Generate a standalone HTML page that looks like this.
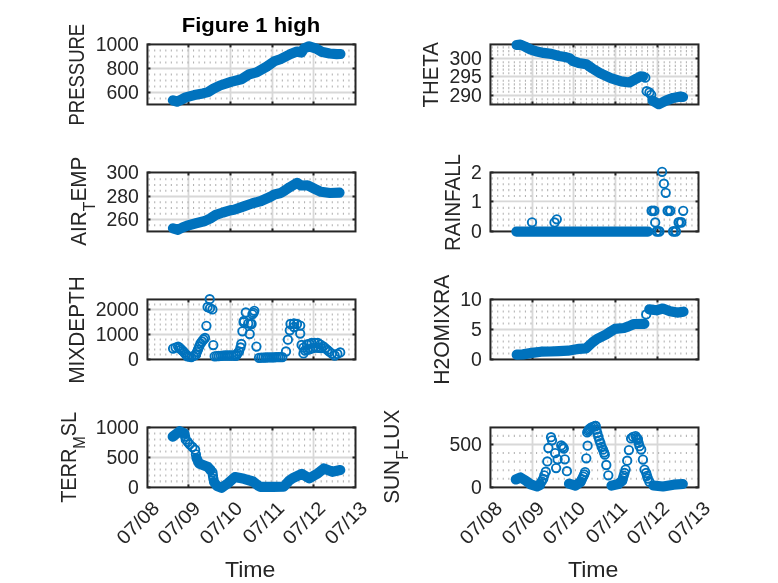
<!DOCTYPE html><html><head><meta charset="utf-8"><style>html,body{margin:0;padding:0;background:#fff;width:778px;height:583px;overflow:hidden}svg{display:block;will-change:transform}text{font-family:"Liberation Sans",sans-serif}</style></head><body>
<svg width="778" height="583" viewBox="0 0 778 583">
<rect width="778" height="583" fill="#fff"/>
<g stroke="#d8d8d8" stroke-width="1.8"><line x1="188.45" y1="44.42" x2="188.45" y2="104.48"/><line x1="230.48" y1="44.42" x2="230.48" y2="104.48"/><line x1="272.48" y1="44.42" x2="272.48" y2="104.48"/><line x1="313.50" y1="44.42" x2="313.50" y2="104.48"/><line x1="147.45" y1="92.48" x2="355.50" y2="92.48"/><line x1="147.45" y1="68.48" x2="355.50" y2="68.48"/></g>
<g stroke="#b4b4b4" stroke-width="2.1" stroke-dasharray="1.1 4.45"><line x1="148.60" y1="98.48" x2="354.50" y2="98.48"/><line x1="148.60" y1="86.48" x2="354.50" y2="86.48"/><line x1="148.60" y1="80.48" x2="354.50" y2="80.48"/><line x1="148.60" y1="74.48" x2="354.50" y2="74.48"/><line x1="148.60" y1="62.48" x2="354.50" y2="62.48"/><line x1="148.60" y1="56.48" x2="354.50" y2="56.48"/><line x1="148.60" y1="50.48" x2="354.50" y2="50.48"/></g>
<g stroke="#262626" stroke-width="2" stroke-linecap="butt"><rect x="147.45" y="44.42" width="208.05" height="60.06" fill="none"/><line x1="188.45" y1="104.48" x2="188.45" y2="101.48"/><line x1="188.45" y1="44.42" x2="188.45" y2="47.42"/><line x1="230.48" y1="104.48" x2="230.48" y2="101.48"/><line x1="230.48" y1="44.42" x2="230.48" y2="47.42"/><line x1="272.48" y1="104.48" x2="272.48" y2="101.48"/><line x1="272.48" y1="44.42" x2="272.48" y2="47.42"/><line x1="313.50" y1="104.48" x2="313.50" y2="101.48"/><line x1="313.50" y1="44.42" x2="313.50" y2="47.42"/><line x1="147.45" y1="92.48" x2="150.45" y2="92.48"/><line x1="355.50" y1="92.48" x2="352.50" y2="92.48"/><line x1="147.45" y1="68.48" x2="150.45" y2="68.48"/><line x1="355.50" y1="68.48" x2="352.50" y2="68.48"/><line x1="147.45" y1="44.42" x2="150.45" y2="44.42"/><line x1="355.50" y1="44.42" x2="352.50" y2="44.42"/></g>
<g fill="#262626" font-size="19.40"><text x="138.90" y="99.18" text-anchor="end">600</text><text x="138.90" y="75.18" text-anchor="end">800</text><text x="138.90" y="51.12" text-anchor="end">1000</text></g>
<text x='300' y='300' font-size='21.3' fill='#262626' transform='translate(83.90 125.54) rotate(-90) scale(0.8684 1) translate(-300 -300)'>PRESSURE</text>
<path d="M172.9 100.3 L177.1 101.7 L181.4 99.6 L185.7 97.4 L194.3 95.1 L202.8 93.4 L208.0 92.1 L213.1 88.9 L220.0 85.5 L230.9 81.9 L241.2 79.3 L249.4 74.2 L256.6 72.4 L266.9 66.5 L274.2 61.3 L280.3 59.2 L290.6 54.0 L297.0 51.5 L301.5 52.5 L304.0 48.5 L309.1 46.3 L316.3 48.6 L321.4 51.7 L329.6 53.5 L336.8 54.2 L340.4 54.0" fill="none" stroke="#0072bd" stroke-width="10.2" stroke-linecap="round" stroke-linejoin="round"/>
<g stroke="#d8d8d8" stroke-width="1.8"><line x1="532.50" y1="44.42" x2="532.50" y2="104.48"/><line x1="573.45" y1="44.42" x2="573.45" y2="104.48"/><line x1="615.45" y1="44.42" x2="615.45" y2="104.48"/><line x1="657.48" y1="44.42" x2="657.48" y2="104.48"/><line x1="490.45" y1="95.48" x2="698.50" y2="95.48"/><line x1="490.45" y1="76.48" x2="698.50" y2="76.48"/><line x1="490.45" y1="58.48" x2="698.50" y2="58.48"/></g>
<g stroke="#b4b4b4" stroke-width="2.1" stroke-dasharray="1.1 4.45"><line x1="491.60" y1="102.88" x2="697.50" y2="102.88"/><line x1="491.60" y1="99.18" x2="697.50" y2="99.18"/><line x1="491.60" y1="91.78" x2="697.50" y2="91.78"/><line x1="491.60" y1="88.08" x2="697.50" y2="88.08"/><line x1="491.60" y1="84.38" x2="697.50" y2="84.38"/><line x1="491.60" y1="80.68" x2="697.50" y2="80.68"/><line x1="491.60" y1="73.28" x2="697.50" y2="73.28"/><line x1="491.60" y1="69.58" x2="697.50" y2="69.58"/><line x1="491.60" y1="65.88" x2="697.50" y2="65.88"/><line x1="491.60" y1="62.18" x2="697.50" y2="62.18"/><line x1="491.60" y1="54.78" x2="697.50" y2="54.78"/><line x1="491.60" y1="51.08" x2="697.50" y2="51.08"/><line x1="491.60" y1="47.38" x2="697.50" y2="47.38"/></g>
<g stroke="#262626" stroke-width="2" stroke-linecap="butt"><rect x="490.45" y="44.42" width="208.05" height="60.06" fill="none"/><line x1="532.50" y1="104.48" x2="532.50" y2="101.48"/><line x1="532.50" y1="44.42" x2="532.50" y2="47.42"/><line x1="573.45" y1="104.48" x2="573.45" y2="101.48"/><line x1="573.45" y1="44.42" x2="573.45" y2="47.42"/><line x1="615.45" y1="104.48" x2="615.45" y2="101.48"/><line x1="615.45" y1="44.42" x2="615.45" y2="47.42"/><line x1="657.48" y1="104.48" x2="657.48" y2="101.48"/><line x1="657.48" y1="44.42" x2="657.48" y2="47.42"/><line x1="490.45" y1="95.48" x2="493.45" y2="95.48"/><line x1="698.50" y1="95.48" x2="695.50" y2="95.48"/><line x1="490.45" y1="76.48" x2="493.45" y2="76.48"/><line x1="698.50" y1="76.48" x2="695.50" y2="76.48"/><line x1="490.45" y1="58.48" x2="493.45" y2="58.48"/><line x1="698.50" y1="58.48" x2="695.50" y2="58.48"/></g>
<g fill="#262626" font-size="19.40"><text x="481.90" y="102.18" text-anchor="end">290</text><text x="481.90" y="83.18" text-anchor="end">295</text><text x="481.90" y="65.18" text-anchor="end">300</text></g>
<text x='300' y='300' font-size='21.3' fill='#262626' transform='translate(437.70 107.56) rotate(-90) scale(0.9597 1) translate(-300 -300)'>THETA</text>
<path d="M516.6 45.0 L520.4 44.6 L525.0 46.6 L530.4 49.4 L535.8 51.3 L543.5 52.9 L551.3 53.9 L559.0 56.0 L565.0 57.0 L569.3 58.1 L573.2 61.2 L578.5 62.9 L586.3 64.3 L592.4 68.5 L600.0 73.1 L610.8 78.1 L621.1 81.4 L629.4 82.5 L636.6 78.6 L640.5 76.3 L643.0 76.5" fill="none" stroke="#0072bd" stroke-width="10.2" stroke-linecap="round" stroke-linejoin="round"/><path d="M652.5 100.6 L658.8 104.2 L666.0 100.6 L673.2 97.9 L680.4 96.6 L683.0 97.0" fill="none" stroke="#0072bd" stroke-width="10.2" stroke-linecap="round" stroke-linejoin="round"/><circle cx="645.3" cy="77.7" r="4.2" fill="none" stroke="#0072bd" stroke-width="1.9"/><circle cx="646.7" cy="91.2" r="4.2" fill="none" stroke="#0072bd" stroke-width="1.9"/><circle cx="649.4" cy="92.5" r="4.2" fill="none" stroke="#0072bd" stroke-width="1.9"/><circle cx="651.2" cy="94.8" r="4.2" fill="none" stroke="#0072bd" stroke-width="1.9"/>
<g stroke="#d8d8d8" stroke-width="1.8"><line x1="188.45" y1="172.48" x2="188.45" y2="231.45"/><line x1="230.48" y1="172.48" x2="230.48" y2="231.45"/><line x1="272.48" y1="172.48" x2="272.48" y2="231.45"/><line x1="313.50" y1="172.48" x2="313.50" y2="231.45"/><line x1="147.45" y1="219.48" x2="355.50" y2="219.48"/><line x1="147.45" y1="196.48" x2="355.50" y2="196.48"/></g>
<g stroke="#b4b4b4" stroke-width="2.1" stroke-dasharray="1.1 4.45"><line x1="148.60" y1="225.23" x2="354.50" y2="225.23"/><line x1="148.60" y1="213.73" x2="354.50" y2="213.73"/><line x1="148.60" y1="207.98" x2="354.50" y2="207.98"/><line x1="148.60" y1="202.23" x2="354.50" y2="202.23"/><line x1="148.60" y1="190.73" x2="354.50" y2="190.73"/><line x1="148.60" y1="184.98" x2="354.50" y2="184.98"/><line x1="148.60" y1="179.23" x2="354.50" y2="179.23"/></g>
<g stroke="#262626" stroke-width="2" stroke-linecap="butt"><rect x="147.45" y="172.48" width="208.05" height="58.97" fill="none"/><line x1="188.45" y1="231.45" x2="188.45" y2="228.45"/><line x1="188.45" y1="172.48" x2="188.45" y2="175.48"/><line x1="230.48" y1="231.45" x2="230.48" y2="228.45"/><line x1="230.48" y1="172.48" x2="230.48" y2="175.48"/><line x1="272.48" y1="231.45" x2="272.48" y2="228.45"/><line x1="272.48" y1="172.48" x2="272.48" y2="175.48"/><line x1="313.50" y1="231.45" x2="313.50" y2="228.45"/><line x1="313.50" y1="172.48" x2="313.50" y2="175.48"/><line x1="147.45" y1="219.48" x2="150.45" y2="219.48"/><line x1="355.50" y1="219.48" x2="352.50" y2="219.48"/><line x1="147.45" y1="196.48" x2="150.45" y2="196.48"/><line x1="355.50" y1="196.48" x2="352.50" y2="196.48"/><line x1="147.45" y1="172.48" x2="150.45" y2="172.48"/><line x1="355.50" y1="172.48" x2="352.50" y2="172.48"/></g>
<g fill="#262626" font-size="19.40"><text x="138.90" y="226.18" text-anchor="end">260</text><text x="138.90" y="203.18" text-anchor="end">280</text><text x="138.90" y="179.18" text-anchor="end">300</text></g>
<text x='300' y='300' font-size='21.3' fill='#262626' transform='translate(85.70 245.70) rotate(-90) scale(0.9722 1) translate(-300 -300)'><tspan>AIR</tspan><tspan font-size='16.2' dy='9.6'>T</tspan><tspan dy='-9.6'>EMP</tspan></text>
<path d="M173.0 228.3 L178.0 229.8 L182.5 227.5 L187.0 225.7 L196.0 223.3 L205.0 221.0 L210.4 218.4 L215.8 214.9 L223.0 212.5 L230.0 210.4 L234.0 209.8 L243.0 206.6 L252.0 203.5 L261.0 201.0 L270.0 197.0 L274.5 194.5 L280.8 193.0 L285.0 190.4 L289.5 187.3 L297.0 182.8 L301.0 185.5 L307.5 185.3 L314.7 188.9 L321.0 191.8 L330.0 193.0 L339.5 192.7" fill="none" stroke="#0072bd" stroke-width="10.2" stroke-linecap="round" stroke-linejoin="round"/>
<g stroke="#d8d8d8" stroke-width="1.8"><line x1="532.50" y1="172.48" x2="532.50" y2="231.45"/><line x1="573.45" y1="172.48" x2="573.45" y2="231.45"/><line x1="615.45" y1="172.48" x2="615.45" y2="231.45"/><line x1="657.48" y1="172.48" x2="657.48" y2="231.45"/><line x1="490.45" y1="201.45" x2="698.50" y2="201.45"/></g>
<g stroke="#b4b4b4" stroke-width="2.1" stroke-dasharray="1.1 4.45"><line x1="491.60" y1="225.55" x2="697.50" y2="225.55"/><line x1="491.60" y1="219.66" x2="697.50" y2="219.66"/><line x1="491.60" y1="213.76" x2="697.50" y2="213.76"/><line x1="491.60" y1="207.86" x2="697.50" y2="207.86"/><line x1="491.60" y1="196.07" x2="697.50" y2="196.07"/><line x1="491.60" y1="190.17" x2="697.50" y2="190.17"/><line x1="491.60" y1="184.27" x2="697.50" y2="184.27"/><line x1="491.60" y1="178.38" x2="697.50" y2="178.38"/></g>
<g stroke="#262626" stroke-width="2" stroke-linecap="butt"><rect x="490.45" y="172.48" width="208.05" height="58.97" fill="none"/><line x1="532.50" y1="231.45" x2="532.50" y2="228.45"/><line x1="532.50" y1="172.48" x2="532.50" y2="175.48"/><line x1="573.45" y1="231.45" x2="573.45" y2="228.45"/><line x1="573.45" y1="172.48" x2="573.45" y2="175.48"/><line x1="615.45" y1="231.45" x2="615.45" y2="228.45"/><line x1="615.45" y1="172.48" x2="615.45" y2="175.48"/><line x1="657.48" y1="231.45" x2="657.48" y2="228.45"/><line x1="657.48" y1="172.48" x2="657.48" y2="175.48"/><line x1="490.45" y1="231.45" x2="493.45" y2="231.45"/><line x1="698.50" y1="231.45" x2="695.50" y2="231.45"/><line x1="490.45" y1="201.45" x2="493.45" y2="201.45"/><line x1="698.50" y1="201.45" x2="695.50" y2="201.45"/><line x1="490.45" y1="172.48" x2="493.45" y2="172.48"/><line x1="698.50" y1="172.48" x2="695.50" y2="172.48"/></g>
<g fill="#262626" font-size="19.40"><text x="481.90" y="238.15" text-anchor="end">0</text><text x="481.90" y="208.15" text-anchor="end">1</text><text x="481.90" y="179.18" text-anchor="end">2</text></g>
<text x='300' y='300' font-size='21.3' fill='#262626' transform='translate(459.80 250.93) rotate(-90) scale(0.9633 1) translate(-300 -300)'>RAINFALL</text>
<path d="M516.4 231.6 L648.0 231.6" fill="none" stroke="#0072bd" stroke-width="10.2" stroke-linecap="round" stroke-linejoin="round"/><circle cx="532.0" cy="222.3" r="4.2" fill="none" stroke="#0072bd" stroke-width="1.9"/><circle cx="554.5" cy="222.5" r="4.2" fill="none" stroke="#0072bd" stroke-width="1.9"/><circle cx="556.8" cy="219.3" r="4.2" fill="none" stroke="#0072bd" stroke-width="1.9"/><circle cx="662.1" cy="171.8" r="4.2" fill="none" stroke="#0072bd" stroke-width="1.9"/><circle cx="663.9" cy="183.7" r="4.2" fill="none" stroke="#0072bd" stroke-width="1.9"/><circle cx="665.7" cy="192.8" r="4.2" fill="none" stroke="#0072bd" stroke-width="1.9"/><circle cx="683.2" cy="210.8" r="4.2" fill="none" stroke="#0072bd" stroke-width="1.9"/><circle cx="655.2" cy="222.4" r="4.2" fill="none" stroke="#0072bd" stroke-width="1.9"/><circle cx="651.8" cy="210.8" r="4.2" fill="none" stroke="#0072bd" stroke-width="2.3"/><circle cx="654.2" cy="210.8" r="4.2" fill="none" stroke="#0072bd" stroke-width="2.3"/><circle cx="667.8" cy="210.8" r="4.2" fill="none" stroke="#0072bd" stroke-width="2.3"/><circle cx="670.2" cy="210.8" r="4.2" fill="none" stroke="#0072bd" stroke-width="2.3"/><circle cx="678.8" cy="222.4" r="4.2" fill="none" stroke="#0072bd" stroke-width="2.3"/><circle cx="681.2" cy="222.4" r="4.2" fill="none" stroke="#0072bd" stroke-width="2.3"/><circle cx="656.8" cy="231.4" r="4.2" fill="none" stroke="#0072bd" stroke-width="2.3"/><circle cx="659.2" cy="231.4" r="4.2" fill="none" stroke="#0072bd" stroke-width="2.3"/><circle cx="673.3" cy="231.4" r="4.2" fill="none" stroke="#0072bd" stroke-width="2.3"/><circle cx="675.7" cy="231.4" r="4.2" fill="none" stroke="#0072bd" stroke-width="2.3"/>
<g stroke="#d8d8d8" stroke-width="1.8"><line x1="188.45" y1="299.45" x2="188.45" y2="359.45"/><line x1="230.48" y1="299.45" x2="230.48" y2="359.45"/><line x1="272.48" y1="299.45" x2="272.48" y2="359.45"/><line x1="313.50" y1="299.45" x2="313.50" y2="359.45"/><line x1="147.45" y1="334.48" x2="355.50" y2="334.48"/><line x1="147.45" y1="309.48" x2="355.50" y2="309.48"/></g>
<g stroke="#b4b4b4" stroke-width="2.1" stroke-dasharray="1.1 4.45"><line x1="148.60" y1="354.48" x2="354.50" y2="354.48"/><line x1="148.60" y1="349.48" x2="354.50" y2="349.48"/><line x1="148.60" y1="344.48" x2="354.50" y2="344.48"/><line x1="148.60" y1="339.48" x2="354.50" y2="339.48"/><line x1="148.60" y1="329.48" x2="354.50" y2="329.48"/><line x1="148.60" y1="324.48" x2="354.50" y2="324.48"/><line x1="148.60" y1="319.48" x2="354.50" y2="319.48"/><line x1="148.60" y1="314.48" x2="354.50" y2="314.48"/><line x1="148.60" y1="304.48" x2="354.50" y2="304.48"/></g>
<g stroke="#262626" stroke-width="2" stroke-linecap="butt"><rect x="147.45" y="299.45" width="208.05" height="60.00" fill="none"/><line x1="188.45" y1="359.45" x2="188.45" y2="356.45"/><line x1="188.45" y1="299.45" x2="188.45" y2="302.45"/><line x1="230.48" y1="359.45" x2="230.48" y2="356.45"/><line x1="230.48" y1="299.45" x2="230.48" y2="302.45"/><line x1="272.48" y1="359.45" x2="272.48" y2="356.45"/><line x1="272.48" y1="299.45" x2="272.48" y2="302.45"/><line x1="313.50" y1="359.45" x2="313.50" y2="356.45"/><line x1="313.50" y1="299.45" x2="313.50" y2="302.45"/><line x1="147.45" y1="359.45" x2="150.45" y2="359.45"/><line x1="355.50" y1="359.45" x2="352.50" y2="359.45"/><line x1="147.45" y1="334.48" x2="150.45" y2="334.48"/><line x1="355.50" y1="334.48" x2="352.50" y2="334.48"/><line x1="147.45" y1="309.48" x2="150.45" y2="309.48"/><line x1="355.50" y1="309.48" x2="352.50" y2="309.48"/></g>
<g fill="#262626" font-size="19.40"><text x="138.90" y="366.15" text-anchor="end">0</text><text x="138.90" y="341.18" text-anchor="end">1000</text><text x="138.90" y="316.18" text-anchor="end">2000</text></g>
<text x='300' y='300' font-size='21.3' fill='#262626' transform='translate(84.00 383.86) rotate(-90) scale(0.9792 1) translate(-300 -300)'>MIXDEPTH</text>
<circle cx="173.1" cy="348.6" r="4.2" fill="none" stroke="#0072bd" stroke-width="1.9"/><circle cx="175.6" cy="347.6" r="4.2" fill="none" stroke="#0072bd" stroke-width="1.9"/><circle cx="178.1" cy="346.6" r="4.2" fill="none" stroke="#0072bd" stroke-width="1.9"/><circle cx="179.7" cy="348.0" r="4.2" fill="none" stroke="#0072bd" stroke-width="1.9"/><circle cx="181.2" cy="349.5" r="4.2" fill="none" stroke="#0072bd" stroke-width="1.9"/><circle cx="182.8" cy="350.9" r="4.2" fill="none" stroke="#0072bd" stroke-width="1.9"/><circle cx="184.3" cy="352.7" r="4.2" fill="none" stroke="#0072bd" stroke-width="1.9"/><circle cx="185.9" cy="354.5" r="4.2" fill="none" stroke="#0072bd" stroke-width="1.9"/><circle cx="187.4" cy="356.3" r="4.2" fill="none" stroke="#0072bd" stroke-width="1.9"/><circle cx="189.4" cy="356.7" r="4.2" fill="none" stroke="#0072bd" stroke-width="1.9"/><circle cx="191.3" cy="357.1" r="4.2" fill="none" stroke="#0072bd" stroke-width="1.9"/><circle cx="193.6" cy="355.9" r="4.2" fill="none" stroke="#0072bd" stroke-width="1.9"/><circle cx="195.9" cy="354.7" r="4.2" fill="none" stroke="#0072bd" stroke-width="1.9"/><circle cx="195.9" cy="354.7" r="4.2" fill="none" stroke="#0072bd" stroke-width="1.9"/><circle cx="196.9" cy="352.1" r="4.2" fill="none" stroke="#0072bd" stroke-width="1.9"/><circle cx="198.0" cy="349.5" r="4.2" fill="none" stroke="#0072bd" stroke-width="1.9"/><circle cx="199.2" cy="346.5" r="4.2" fill="none" stroke="#0072bd" stroke-width="1.9"/><circle cx="200.5" cy="343.5" r="4.2" fill="none" stroke="#0072bd" stroke-width="1.9"/><circle cx="202.0" cy="341.5" r="4.2" fill="none" stroke="#0072bd" stroke-width="1.9"/><circle cx="203.5" cy="339.5" r="4.2" fill="none" stroke="#0072bd" stroke-width="1.9"/><circle cx="205.0" cy="338.0" r="4.2" fill="none" stroke="#0072bd" stroke-width="1.9"/><circle cx="214.7" cy="356.3" r="4.2" fill="none" stroke="#0072bd" stroke-width="1.9"/><circle cx="216.8" cy="356.1" r="4.2" fill="none" stroke="#0072bd" stroke-width="1.9"/><circle cx="218.8" cy="356.0" r="4.2" fill="none" stroke="#0072bd" stroke-width="1.9"/><circle cx="220.9" cy="355.8" r="4.2" fill="none" stroke="#0072bd" stroke-width="1.9"/><circle cx="222.9" cy="355.7" r="4.2" fill="none" stroke="#0072bd" stroke-width="1.9"/><circle cx="225.0" cy="355.5" r="4.2" fill="none" stroke="#0072bd" stroke-width="1.9"/><circle cx="227.2" cy="355.5" r="4.2" fill="none" stroke="#0072bd" stroke-width="1.9"/><circle cx="229.4" cy="355.5" r="4.2" fill="none" stroke="#0072bd" stroke-width="1.9"/><circle cx="231.6" cy="355.5" r="4.2" fill="none" stroke="#0072bd" stroke-width="1.9"/><circle cx="233.8" cy="355.5" r="4.2" fill="none" stroke="#0072bd" stroke-width="1.9"/><circle cx="236.0" cy="355.5" r="4.2" fill="none" stroke="#0072bd" stroke-width="1.9"/><circle cx="236.0" cy="355.5" r="4.2" fill="none" stroke="#0072bd" stroke-width="1.9"/><circle cx="237.5" cy="353.5" r="4.2" fill="none" stroke="#0072bd" stroke-width="1.9"/><circle cx="239.0" cy="351.5" r="4.2" fill="none" stroke="#0072bd" stroke-width="1.9"/><circle cx="240.5" cy="347.5" r="4.2" fill="none" stroke="#0072bd" stroke-width="1.9"/><circle cx="241.3" cy="344.0" r="4.2" fill="none" stroke="#0072bd" stroke-width="1.9"/><circle cx="259.0" cy="357.8" r="4.2" fill="none" stroke="#0072bd" stroke-width="1.9"/><circle cx="261.2" cy="357.7" r="4.2" fill="none" stroke="#0072bd" stroke-width="1.9"/><circle cx="263.4" cy="357.6" r="4.2" fill="none" stroke="#0072bd" stroke-width="1.9"/><circle cx="265.6" cy="357.5" r="4.2" fill="none" stroke="#0072bd" stroke-width="1.9"/><circle cx="267.8" cy="357.4" r="4.2" fill="none" stroke="#0072bd" stroke-width="1.9"/><circle cx="270.0" cy="357.3" r="4.2" fill="none" stroke="#0072bd" stroke-width="1.9"/><circle cx="272.1" cy="357.3" r="4.2" fill="none" stroke="#0072bd" stroke-width="1.9"/><circle cx="274.1" cy="357.3" r="4.2" fill="none" stroke="#0072bd" stroke-width="1.9"/><circle cx="276.1" cy="357.2" r="4.2" fill="none" stroke="#0072bd" stroke-width="1.9"/><circle cx="278.2" cy="357.2" r="4.2" fill="none" stroke="#0072bd" stroke-width="1.9"/><circle cx="280.2" cy="357.2" r="4.2" fill="none" stroke="#0072bd" stroke-width="1.9"/><circle cx="282.3" cy="357.2" r="4.2" fill="none" stroke="#0072bd" stroke-width="1.9"/><circle cx="303.6" cy="347.6" r="4.2" fill="none" stroke="#0072bd" stroke-width="1.9"/><circle cx="307.0" cy="344.5" r="4.2" fill="none" stroke="#0072bd" stroke-width="1.9"/><circle cx="309.3" cy="343.8" r="4.2" fill="none" stroke="#0072bd" stroke-width="1.9"/><circle cx="311.6" cy="343.0" r="4.2" fill="none" stroke="#0072bd" stroke-width="1.9"/><circle cx="314.7" cy="343.0" r="4.2" fill="none" stroke="#0072bd" stroke-width="1.9"/><circle cx="317.8" cy="343.0" r="4.2" fill="none" stroke="#0072bd" stroke-width="1.9"/><circle cx="320.5" cy="344.6" r="4.2" fill="none" stroke="#0072bd" stroke-width="1.9"/><circle cx="323.2" cy="346.3" r="4.2" fill="none" stroke="#0072bd" stroke-width="1.9"/><circle cx="325.2" cy="348.1" r="4.2" fill="none" stroke="#0072bd" stroke-width="1.9"/><circle cx="327.3" cy="349.9" r="4.2" fill="none" stroke="#0072bd" stroke-width="1.9"/><circle cx="329.3" cy="351.7" r="4.2" fill="none" stroke="#0072bd" stroke-width="1.9"/><circle cx="332.0" cy="353.6" r="4.2" fill="none" stroke="#0072bd" stroke-width="1.9"/><circle cx="334.7" cy="355.5" r="4.2" fill="none" stroke="#0072bd" stroke-width="1.9"/><circle cx="337.4" cy="353.9" r="4.2" fill="none" stroke="#0072bd" stroke-width="1.9"/><circle cx="340.2" cy="352.4" r="4.2" fill="none" stroke="#0072bd" stroke-width="1.9"/><circle cx="305.0" cy="350.5" r="4.2" fill="none" stroke="#0072bd" stroke-width="1.9"/><circle cx="307.5" cy="349.8" r="4.2" fill="none" stroke="#0072bd" stroke-width="1.9"/><circle cx="310.0" cy="349.0" r="4.2" fill="none" stroke="#0072bd" stroke-width="1.9"/><circle cx="313.0" cy="348.2" r="4.2" fill="none" stroke="#0072bd" stroke-width="1.9"/><circle cx="316.0" cy="347.5" r="4.2" fill="none" stroke="#0072bd" stroke-width="1.9"/><circle cx="318.5" cy="347.8" r="4.2" fill="none" stroke="#0072bd" stroke-width="1.9"/><circle cx="321.0" cy="348.0" r="4.2" fill="none" stroke="#0072bd" stroke-width="1.9"/><circle cx="290.5" cy="324.0" r="4.2" fill="none" stroke="#0072bd" stroke-width="1.9"/><circle cx="294.0" cy="323.5" r="4.2" fill="none" stroke="#0072bd" stroke-width="1.9"/><circle cx="297.0" cy="324.0" r="4.2" fill="none" stroke="#0072bd" stroke-width="1.9"/><circle cx="300.2" cy="325.6" r="4.2" fill="none" stroke="#0072bd" stroke-width="1.9"/><circle cx="209.7" cy="299.2" r="4.2" fill="none" stroke="#0072bd" stroke-width="1.9"/><circle cx="207.6" cy="307.0" r="4.2" fill="none" stroke="#0072bd" stroke-width="1.9"/><circle cx="210.0" cy="308.2" r="4.2" fill="none" stroke="#0072bd" stroke-width="1.9"/><circle cx="212.4" cy="309.4" r="4.2" fill="none" stroke="#0072bd" stroke-width="1.9"/><circle cx="206.4" cy="325.8" r="4.2" fill="none" stroke="#0072bd" stroke-width="1.9"/><circle cx="213.3" cy="345.1" r="4.2" fill="none" stroke="#0072bd" stroke-width="1.9"/><circle cx="245.8" cy="312.4" r="4.2" fill="none" stroke="#0072bd" stroke-width="1.9"/><circle cx="254.3" cy="310.8" r="4.2" fill="none" stroke="#0072bd" stroke-width="1.9"/><circle cx="253.6" cy="312.8" r="4.2" fill="none" stroke="#0072bd" stroke-width="1.9"/><circle cx="252.4" cy="314.3" r="4.2" fill="none" stroke="#0072bd" stroke-width="1.9"/><circle cx="243.9" cy="320.9" r="4.2" fill="none" stroke="#0072bd" stroke-width="1.9"/><circle cx="248.2" cy="323.6" r="4.2" fill="none" stroke="#0072bd" stroke-width="1.9"/><circle cx="250.5" cy="323.6" r="4.2" fill="none" stroke="#0072bd" stroke-width="1.9"/><circle cx="251.6" cy="324.0" r="4.2" fill="none" stroke="#0072bd" stroke-width="1.9"/><circle cx="242.4" cy="331.3" r="4.2" fill="none" stroke="#0072bd" stroke-width="1.9"/><circle cx="249.7" cy="334.0" r="4.2" fill="none" stroke="#0072bd" stroke-width="1.9"/><circle cx="243.6" cy="322.3" r="4.2" fill="none" stroke="#0072bd" stroke-width="1.9"/><circle cx="256.4" cy="346.6" r="4.2" fill="none" stroke="#0072bd" stroke-width="1.9"/><circle cx="294.0" cy="327.0" r="4.2" fill="none" stroke="#0072bd" stroke-width="1.9"/><circle cx="289.8" cy="330.3" r="4.2" fill="none" stroke="#0072bd" stroke-width="1.9"/><circle cx="300.2" cy="333.6" r="4.2" fill="none" stroke="#0072bd" stroke-width="1.9"/><circle cx="287.9" cy="339.7" r="4.2" fill="none" stroke="#0072bd" stroke-width="1.9"/><circle cx="286.0" cy="351.5" r="4.2" fill="none" stroke="#0072bd" stroke-width="1.9"/><circle cx="301.6" cy="344.9" r="4.2" fill="none" stroke="#0072bd" stroke-width="1.9"/><circle cx="303.5" cy="353.4" r="4.2" fill="none" stroke="#0072bd" stroke-width="1.9"/>
<g stroke="#d8d8d8" stroke-width="1.8"><line x1="532.50" y1="299.45" x2="532.50" y2="359.45"/><line x1="573.45" y1="299.45" x2="573.45" y2="359.45"/><line x1="615.45" y1="299.45" x2="615.45" y2="359.45"/><line x1="657.48" y1="299.45" x2="657.48" y2="359.45"/><line x1="490.45" y1="329.48" x2="698.50" y2="329.48"/></g>
<g stroke="#b4b4b4" stroke-width="2.1" stroke-dasharray="1.1 4.45"><line x1="491.60" y1="353.46" x2="697.50" y2="353.46"/><line x1="491.60" y1="347.46" x2="697.50" y2="347.46"/><line x1="491.60" y1="341.47" x2="697.50" y2="341.47"/><line x1="491.60" y1="335.47" x2="697.50" y2="335.47"/><line x1="491.60" y1="323.49" x2="697.50" y2="323.49"/><line x1="491.60" y1="317.49" x2="697.50" y2="317.49"/><line x1="491.60" y1="311.50" x2="697.50" y2="311.50"/><line x1="491.60" y1="305.50" x2="697.50" y2="305.50"/></g>
<g stroke="#262626" stroke-width="2" stroke-linecap="butt"><rect x="490.45" y="299.45" width="208.05" height="60.00" fill="none"/><line x1="532.50" y1="359.45" x2="532.50" y2="356.45"/><line x1="532.50" y1="299.45" x2="532.50" y2="302.45"/><line x1="573.45" y1="359.45" x2="573.45" y2="356.45"/><line x1="573.45" y1="299.45" x2="573.45" y2="302.45"/><line x1="615.45" y1="359.45" x2="615.45" y2="356.45"/><line x1="615.45" y1="299.45" x2="615.45" y2="302.45"/><line x1="657.48" y1="359.45" x2="657.48" y2="356.45"/><line x1="657.48" y1="299.45" x2="657.48" y2="302.45"/><line x1="490.45" y1="359.45" x2="493.45" y2="359.45"/><line x1="698.50" y1="359.45" x2="695.50" y2="359.45"/><line x1="490.45" y1="329.48" x2="493.45" y2="329.48"/><line x1="698.50" y1="329.48" x2="695.50" y2="329.48"/><line x1="490.45" y1="299.45" x2="493.45" y2="299.45"/><line x1="698.50" y1="299.45" x2="695.50" y2="299.45"/></g>
<g fill="#262626" font-size="19.40"><text x="481.90" y="366.15" text-anchor="end">0</text><text x="481.90" y="336.18" text-anchor="end">5</text><text x="481.90" y="306.15" text-anchor="end">10</text></g>
<text x='300' y='300' font-size='21.3' fill='#262626' transform='translate(448.90 384.78) rotate(-90) scale(0.9899 1) translate(-300 -300)'>H2OMIXRA</text>
<path d="M516.7 354.7 L523.0 354.4 L532.0 352.9 L541.0 351.7 L550.0 351.5 L559.0 351.1 L568.0 350.7 L575.0 349.5 L579.0 348.9 L586.2 348.3 L592.5 342.4 L597.0 339.0 L606.0 334.5 L610.5 331.6 L615.0 328.9 L624.0 328.0 L628.5 326.4 L634.0 324.0 L644.4 323.8" fill="none" stroke="#0072bd" stroke-width="10.2" stroke-linecap="round" stroke-linejoin="round"/><path d="M649.3 309.4 L656.5 310.3 L662.8 308.5 L670.0 311.2 L677.2 312.6 L683.5 311.7" fill="none" stroke="#0072bd" stroke-width="10.2" stroke-linecap="round" stroke-linejoin="round"/><circle cx="646.2" cy="314.4" r="4.2" fill="none" stroke="#0072bd" stroke-width="1.9"/>
<g stroke="#d8d8d8" stroke-width="1.8"><line x1="188.45" y1="427.45" x2="188.45" y2="487.40"/><line x1="230.48" y1="427.45" x2="230.48" y2="487.40"/><line x1="272.48" y1="427.45" x2="272.48" y2="487.40"/><line x1="313.50" y1="427.45" x2="313.50" y2="487.40"/><line x1="147.45" y1="457.48" x2="355.50" y2="457.48"/></g>
<g stroke="#b4b4b4" stroke-width="2.1" stroke-dasharray="1.1 4.45"><line x1="148.60" y1="481.42" x2="354.50" y2="481.42"/><line x1="148.60" y1="475.43" x2="354.50" y2="475.43"/><line x1="148.60" y1="469.45" x2="354.50" y2="469.45"/><line x1="148.60" y1="463.46" x2="354.50" y2="463.46"/><line x1="148.60" y1="451.50" x2="354.50" y2="451.50"/><line x1="148.60" y1="445.51" x2="354.50" y2="445.51"/><line x1="148.60" y1="439.53" x2="354.50" y2="439.53"/><line x1="148.60" y1="433.54" x2="354.50" y2="433.54"/></g>
<g stroke="#262626" stroke-width="2" stroke-linecap="butt"><rect x="147.45" y="427.45" width="208.05" height="59.95" fill="none"/><line x1="188.45" y1="487.40" x2="188.45" y2="484.40"/><line x1="188.45" y1="427.45" x2="188.45" y2="430.45"/><line x1="230.48" y1="487.40" x2="230.48" y2="484.40"/><line x1="230.48" y1="427.45" x2="230.48" y2="430.45"/><line x1="272.48" y1="487.40" x2="272.48" y2="484.40"/><line x1="272.48" y1="427.45" x2="272.48" y2="430.45"/><line x1="313.50" y1="487.40" x2="313.50" y2="484.40"/><line x1="313.50" y1="427.45" x2="313.50" y2="430.45"/><line x1="147.45" y1="487.40" x2="150.45" y2="487.40"/><line x1="355.50" y1="487.40" x2="352.50" y2="487.40"/><line x1="147.45" y1="457.48" x2="150.45" y2="457.48"/><line x1="355.50" y1="457.48" x2="352.50" y2="457.48"/><line x1="147.45" y1="427.45" x2="150.45" y2="427.45"/><line x1="355.50" y1="427.45" x2="352.50" y2="427.45"/></g>
<g fill="#262626" font-size="19.40"><text x="138.90" y="494.10" text-anchor="end">0</text><text x="138.90" y="464.18" text-anchor="end">500</text><text x="138.90" y="434.15" text-anchor="end">1000</text></g>
<text x='300' y='300' font-size='21.3' fill='#262626' transform='translate(75.60 502.83) rotate(-90) scale(0.9333 1) translate(-300 -300)'><tspan>TERR</tspan><tspan font-size='16.2' dy='9.6'>M</tspan><tspan dy='-9.6'>SL</tspan></text>
<path d="M172.7 436.6 L179.7 431.2 L184.3 433.5" fill="none" stroke="#0072bd" stroke-width="10.2" stroke-linecap="round" stroke-linejoin="round"/><circle cx="184.3" cy="433.5" r="4.2" fill="none" stroke="#0072bd" stroke-width="1.9"/><circle cx="185.1" cy="436.6" r="4.2" fill="none" stroke="#0072bd" stroke-width="1.9"/><circle cx="185.8" cy="439.7" r="4.2" fill="none" stroke="#0072bd" stroke-width="1.9"/><circle cx="187.8" cy="442.0" r="4.2" fill="none" stroke="#0072bd" stroke-width="1.9"/><circle cx="189.7" cy="444.3" r="4.2" fill="none" stroke="#0072bd" stroke-width="1.9"/><circle cx="192.4" cy="447.0" r="4.2" fill="none" stroke="#0072bd" stroke-width="1.9"/><circle cx="195.1" cy="449.7" r="4.2" fill="none" stroke="#0072bd" stroke-width="1.9"/><circle cx="195.9" cy="454.3" r="4.2" fill="none" stroke="#0072bd" stroke-width="1.9"/><path d="M196.5 458.0 L199.0 463.5 L208.0 467.1 L210.5 470.0" fill="none" stroke="#0072bd" stroke-width="10.2" stroke-linecap="round" stroke-linejoin="round"/><circle cx="210.5" cy="470.0" r="4.2" fill="none" stroke="#0072bd" stroke-width="1.9"/><circle cx="212.5" cy="472.5" r="4.2" fill="none" stroke="#0072bd" stroke-width="1.9"/><circle cx="212.9" cy="475.6" r="4.2" fill="none" stroke="#0072bd" stroke-width="1.9"/><circle cx="213.4" cy="478.8" r="4.2" fill="none" stroke="#0072bd" stroke-width="1.9"/><path d="M214.0 482.0 L217.0 486.0 L221.5 487.8 L227.8 483.3 L235.0 477.0 L244.0 478.8 L253.0 481.5 L258.0 485.5 L260.4 486.9 L273.0 486.9 L283.8 486.6 L289.2 480.6 L292.8 478.1 L301.8 473.9 L309.3 478.3 L317.0 473.9 L323.9 468.5 L332.4 471.8 L340.2 470.1" fill="none" stroke="#0072bd" stroke-width="10.2" stroke-linecap="round" stroke-linejoin="round"/>
<g fill="#262626" font-size="19.40"><text transform="translate(160.45 509.50) rotate(-45) scale(1.05 1)" text-anchor="end">07/08</text><text transform="translate(201.45 509.50) rotate(-45) scale(1.05 1)" text-anchor="end">07/09</text><text transform="translate(243.48 509.50) rotate(-45) scale(1.05 1)" text-anchor="end">07/10</text><text transform="translate(285.48 509.50) rotate(-45) scale(1.05 1)" text-anchor="end">07/11</text><text transform="translate(326.50 509.50) rotate(-45) scale(1.05 1)" text-anchor="end">07/12</text><text transform="translate(368.50 509.50) rotate(-45) scale(1.05 1)" text-anchor="end">07/13</text></g>
<g transform='translate(0.00 0)'><text x='300' y='300' font-size='21.3' fill='#262626' transform='translate(224.91 576.80) scale(1.0867 1) translate(-300 -300)'>Time</text></g>
<g stroke="#d8d8d8" stroke-width="1.8"><line x1="532.50" y1="427.45" x2="532.50" y2="487.40"/><line x1="573.45" y1="427.45" x2="573.45" y2="487.40"/><line x1="615.45" y1="427.45" x2="615.45" y2="487.40"/><line x1="657.48" y1="427.45" x2="657.48" y2="487.40"/><line x1="490.45" y1="444.48" x2="698.50" y2="444.48"/></g>
<g stroke="#b4b4b4" stroke-width="2.1" stroke-dasharray="1.1 4.45"><line x1="491.60" y1="478.82" x2="697.50" y2="478.82"/><line x1="491.60" y1="470.23" x2="697.50" y2="470.23"/><line x1="491.60" y1="461.65" x2="697.50" y2="461.65"/><line x1="491.60" y1="453.06" x2="697.50" y2="453.06"/><line x1="491.60" y1="435.90" x2="697.50" y2="435.90"/></g>
<g stroke="#262626" stroke-width="2" stroke-linecap="butt"><rect x="490.45" y="427.45" width="208.05" height="59.95" fill="none"/><line x1="532.50" y1="487.40" x2="532.50" y2="484.40"/><line x1="532.50" y1="427.45" x2="532.50" y2="430.45"/><line x1="573.45" y1="487.40" x2="573.45" y2="484.40"/><line x1="573.45" y1="427.45" x2="573.45" y2="430.45"/><line x1="615.45" y1="487.40" x2="615.45" y2="484.40"/><line x1="615.45" y1="427.45" x2="615.45" y2="430.45"/><line x1="657.48" y1="487.40" x2="657.48" y2="484.40"/><line x1="657.48" y1="427.45" x2="657.48" y2="430.45"/><line x1="490.45" y1="487.40" x2="493.45" y2="487.40"/><line x1="698.50" y1="487.40" x2="695.50" y2="487.40"/><line x1="490.45" y1="444.48" x2="493.45" y2="444.48"/><line x1="698.50" y1="444.48" x2="695.50" y2="444.48"/></g>
<g fill="#262626" font-size="19.40"><text x="481.90" y="494.10" text-anchor="end">0</text><text x="481.90" y="451.18" text-anchor="end">500</text></g>
<text x='300' y='300' font-size='21.3' fill='#262626' transform='translate(398.80 503.78) rotate(-90) scale(0.9770 1) translate(-300 -300)'><tspan>SUN</tspan><tspan font-size='16.2' dy='9.6'>F</tspan><tspan dy='-9.6'>LUX</tspan></text>
<path d="M515.8 479.5 L520.5 477.5 L525.5 480.5 L530.7 484.4 L537.1 486.5 L540.1 485.0" fill="none" stroke="#0072bd" stroke-width="10.2" stroke-linecap="round" stroke-linejoin="round"/><circle cx="540.1" cy="484.0" r="4.2" fill="none" stroke="#0072bd" stroke-width="1.9"/><circle cx="541.7" cy="481.4" r="4.2" fill="none" stroke="#0072bd" stroke-width="1.9"/><circle cx="543.2" cy="478.9" r="4.2" fill="none" stroke="#0072bd" stroke-width="1.9"/><circle cx="544.3" cy="475.3" r="4.2" fill="none" stroke="#0072bd" stroke-width="1.9"/><circle cx="545.8" cy="471.7" r="4.2" fill="none" stroke="#0072bd" stroke-width="1.9"/><path d="M569.0 483.7 L575.4 485.6 L580.6 481.8" fill="none" stroke="#0072bd" stroke-width="10.2" stroke-linecap="round" stroke-linejoin="round"/><circle cx="580.6" cy="481.8" r="4.2" fill="none" stroke="#0072bd" stroke-width="1.9"/><circle cx="581.9" cy="479.2" r="4.2" fill="none" stroke="#0072bd" stroke-width="1.9"/><circle cx="583.2" cy="476.6" r="4.2" fill="none" stroke="#0072bd" stroke-width="1.9"/><circle cx="584.2" cy="474.4" r="4.2" fill="none" stroke="#0072bd" stroke-width="1.9"/><circle cx="585.1" cy="472.1" r="4.2" fill="none" stroke="#0072bd" stroke-width="1.9"/><circle cx="587.2" cy="432.4" r="4.2" fill="none" stroke="#0072bd" stroke-width="1.9"/><circle cx="588.1" cy="430.9" r="4.2" fill="none" stroke="#0072bd" stroke-width="1.9"/><circle cx="589.0" cy="429.5" r="4.2" fill="none" stroke="#0072bd" stroke-width="1.9"/><circle cx="590.2" cy="428.4" r="4.2" fill="none" stroke="#0072bd" stroke-width="1.9"/><circle cx="591.5" cy="427.3" r="4.2" fill="none" stroke="#0072bd" stroke-width="1.9"/><circle cx="593.5" cy="426.6" r="4.2" fill="none" stroke="#0072bd" stroke-width="1.9"/><circle cx="595.5" cy="426.0" r="4.2" fill="none" stroke="#0072bd" stroke-width="1.9"/><circle cx="595.5" cy="426.0" r="4.2" fill="none" stroke="#0072bd" stroke-width="1.9"/><circle cx="596.4" cy="429.6" r="4.2" fill="none" stroke="#0072bd" stroke-width="1.9"/><circle cx="597.3" cy="433.1" r="4.2" fill="none" stroke="#0072bd" stroke-width="1.9"/><circle cx="598.3" cy="436.7" r="4.2" fill="none" stroke="#0072bd" stroke-width="1.9"/><circle cx="599.4" cy="440.3" r="4.2" fill="none" stroke="#0072bd" stroke-width="1.9"/><circle cx="600.5" cy="443.2" r="4.2" fill="none" stroke="#0072bd" stroke-width="1.9"/><circle cx="601.6" cy="446.8" r="4.2" fill="none" stroke="#0072bd" stroke-width="1.9"/><circle cx="603.0" cy="449.7" r="4.2" fill="none" stroke="#0072bd" stroke-width="1.9"/><circle cx="604.1" cy="452.5" r="4.2" fill="none" stroke="#0072bd" stroke-width="1.9"/><circle cx="604.8" cy="454.7" r="4.2" fill="none" stroke="#0072bd" stroke-width="1.9"/><path d="M611.5 485.6 L618.3 484.0 L622.2 480.7" fill="none" stroke="#0072bd" stroke-width="10.2" stroke-linecap="round" stroke-linejoin="round"/><circle cx="622.2" cy="480.7" r="4.2" fill="none" stroke="#0072bd" stroke-width="1.9"/><circle cx="623.0" cy="478.1" r="4.2" fill="none" stroke="#0072bd" stroke-width="1.9"/><circle cx="623.7" cy="475.6" r="4.2" fill="none" stroke="#0072bd" stroke-width="1.9"/><circle cx="624.5" cy="473.0" r="4.2" fill="none" stroke="#0072bd" stroke-width="1.9"/><circle cx="625.6" cy="469.6" r="4.2" fill="none" stroke="#0072bd" stroke-width="1.9"/><circle cx="631.1" cy="438.4" r="4.2" fill="none" stroke="#0072bd" stroke-width="1.9"/><circle cx="633.0" cy="436.8" r="4.2" fill="none" stroke="#0072bd" stroke-width="1.9"/><circle cx="635.6" cy="436.1" r="4.2" fill="none" stroke="#0072bd" stroke-width="1.9"/><circle cx="636.7" cy="437.8" r="4.2" fill="none" stroke="#0072bd" stroke-width="1.9"/><circle cx="637.8" cy="439.5" r="4.2" fill="none" stroke="#0072bd" stroke-width="1.9"/><circle cx="637.8" cy="439.5" r="4.2" fill="none" stroke="#0072bd" stroke-width="1.9"/><circle cx="638.6" cy="442.9" r="4.2" fill="none" stroke="#0072bd" stroke-width="1.9"/><circle cx="639.5" cy="446.2" r="4.2" fill="none" stroke="#0072bd" stroke-width="1.9"/><circle cx="641.2" cy="449.5" r="4.2" fill="none" stroke="#0072bd" stroke-width="1.9"/><circle cx="644.5" cy="469.6" r="4.2" fill="none" stroke="#0072bd" stroke-width="1.9"/><circle cx="646.2" cy="473.0" r="4.2" fill="none" stroke="#0072bd" stroke-width="1.9"/><circle cx="647.0" cy="475.8" r="4.2" fill="none" stroke="#0072bd" stroke-width="1.9"/><circle cx="647.9" cy="478.5" r="4.2" fill="none" stroke="#0072bd" stroke-width="1.9"/><circle cx="649.5" cy="481.9" r="4.2" fill="none" stroke="#0072bd" stroke-width="1.9"/><path d="M653.4 485.5 L663.0 486.5 L673.6 484.7 L682.8 484.0" fill="none" stroke="#0072bd" stroke-width="10.2" stroke-linecap="round" stroke-linejoin="round"/><circle cx="551.0" cy="437.2" r="4.2" fill="none" stroke="#0072bd" stroke-width="1.9"/><circle cx="552.0" cy="440.3" r="4.2" fill="none" stroke="#0072bd" stroke-width="1.9"/><circle cx="548.4" cy="448.0" r="4.2" fill="none" stroke="#0072bd" stroke-width="1.9"/><circle cx="555.1" cy="453.1" r="4.2" fill="none" stroke="#0072bd" stroke-width="1.9"/><circle cx="561.2" cy="445.4" r="4.2" fill="none" stroke="#0072bd" stroke-width="1.9"/><circle cx="562.8" cy="447.0" r="4.2" fill="none" stroke="#0072bd" stroke-width="1.9"/><circle cx="563.8" cy="448.5" r="4.2" fill="none" stroke="#0072bd" stroke-width="1.9"/><circle cx="547.3" cy="461.4" r="4.2" fill="none" stroke="#0072bd" stroke-width="1.9"/><circle cx="557.6" cy="459.3" r="4.2" fill="none" stroke="#0072bd" stroke-width="1.9"/><circle cx="564.8" cy="459.3" r="4.2" fill="none" stroke="#0072bd" stroke-width="1.9"/><circle cx="556.1" cy="468.1" r="4.2" fill="none" stroke="#0072bd" stroke-width="1.9"/><circle cx="566.9" cy="471.2" r="4.2" fill="none" stroke="#0072bd" stroke-width="1.9"/><circle cx="587.6" cy="445.7" r="4.2" fill="none" stroke="#0072bd" stroke-width="1.9"/><circle cx="586.3" cy="458.3" r="4.2" fill="none" stroke="#0072bd" stroke-width="1.9"/><circle cx="606.3" cy="465.0" r="4.2" fill="none" stroke="#0072bd" stroke-width="1.9"/><circle cx="608.3" cy="475.3" r="4.2" fill="none" stroke="#0072bd" stroke-width="1.9"/><circle cx="628.9" cy="450.1" r="4.2" fill="none" stroke="#0072bd" stroke-width="1.9"/><circle cx="627.2" cy="460.7" r="4.2" fill="none" stroke="#0072bd" stroke-width="1.9"/><circle cx="642.9" cy="459.6" r="4.2" fill="none" stroke="#0072bd" stroke-width="1.9"/>
<g fill="#262626" font-size="19.40"><text transform="translate(503.45 509.50) rotate(-45) scale(1.05 1)" text-anchor="end">07/08</text><text transform="translate(545.50 509.50) rotate(-45) scale(1.05 1)" text-anchor="end">07/09</text><text transform="translate(586.45 509.50) rotate(-45) scale(1.05 1)" text-anchor="end">07/10</text><text transform="translate(628.45 509.50) rotate(-45) scale(1.05 1)" text-anchor="end">07/11</text><text transform="translate(670.48 509.50) rotate(-45) scale(1.05 1)" text-anchor="end">07/12</text><text transform="translate(711.50 509.50) rotate(-45) scale(1.05 1)" text-anchor="end">07/13</text></g>
<g transform='translate(343.00 0)'><text x='300' y='300' font-size='21.3' fill='#262626' transform='translate(224.91 576.80) scale(1.0867 1) translate(-300 -300)'>Time</text></g>
<text x='300' y='300' font-size='20.5' font-weight='bold' fill='#000' transform='translate(181.67 31.90) scale(1.0768 1) translate(-300 -300)'>Figure 1 high</text>
</svg></body></html>
